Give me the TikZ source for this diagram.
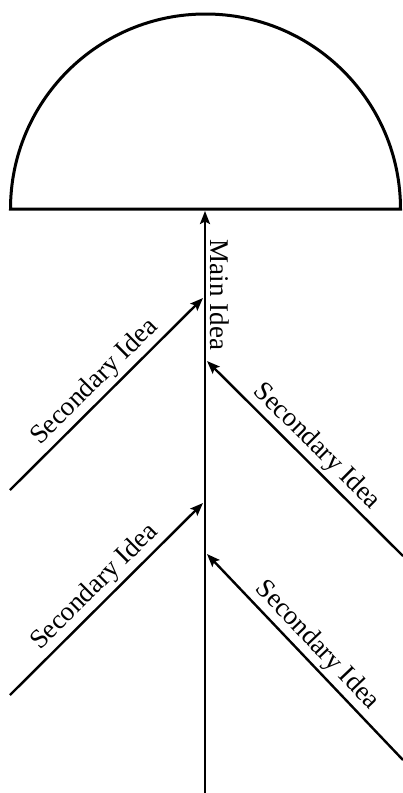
\documentclass[tikz,border=0pt]{standalone}
\usepackage{fontspec}
\setmainfont{Liberation Serif}
\usetikzlibrary{arrows.meta}
\begin{document}
\begin{tikzpicture}[x=1pt,y=-1pt,
  arr/.style={line width=2.4pt,-{Stealth[length=13pt,width=10pt,inset=2.5pt]}},
  lbl/.style={font=\fontsize{27}{31}\selectfont, inner sep=3pt},
  dome/.style={line width=3pt}]
\useasboundingbox (0,0) rectangle (403,793);
% head
\draw[dome] (10.5,209) arc[start angle=180,end angle=360,radius=195] -- cycle;
\coordinate (mtop) at (205,211);
\coordinate (m0) at (205,795);
\draw[arr] (m0) -- (mtop);
\node[lbl, rotate=-90, anchor=south] (mi) at (207,295) {Main Idea};
% left bones
\coordinate (l1s) at (10,490);
\coordinate (l1e) at (203,298);
\coordinate (l2s) at (10,695);
\coordinate (l2e) at (203,503);
\draw[arr] (l1s) -- node[midway, above, sloped, lbl] (t1) {Secondary Idea} (l1e);
\draw[arr] (l2s) -- node[midway, above, sloped, lbl] (t2) {Secondary Idea} (l2e);
% right bones
\coordinate (r1s) at (403,556);
\coordinate (r1e) at (207,361);
\coordinate (r2s) at (403,760);
\coordinate (r2e) at (207,554);
\draw[arr] (r1s) -- node[midway, above, sloped, lbl] (t3) {Secondary Idea} (r1e);
\draw[arr] (r2s) -- node[midway, above, sloped, lbl] (t4) {Secondary Idea} (r2e);
\end{tikzpicture}
\end{document}
